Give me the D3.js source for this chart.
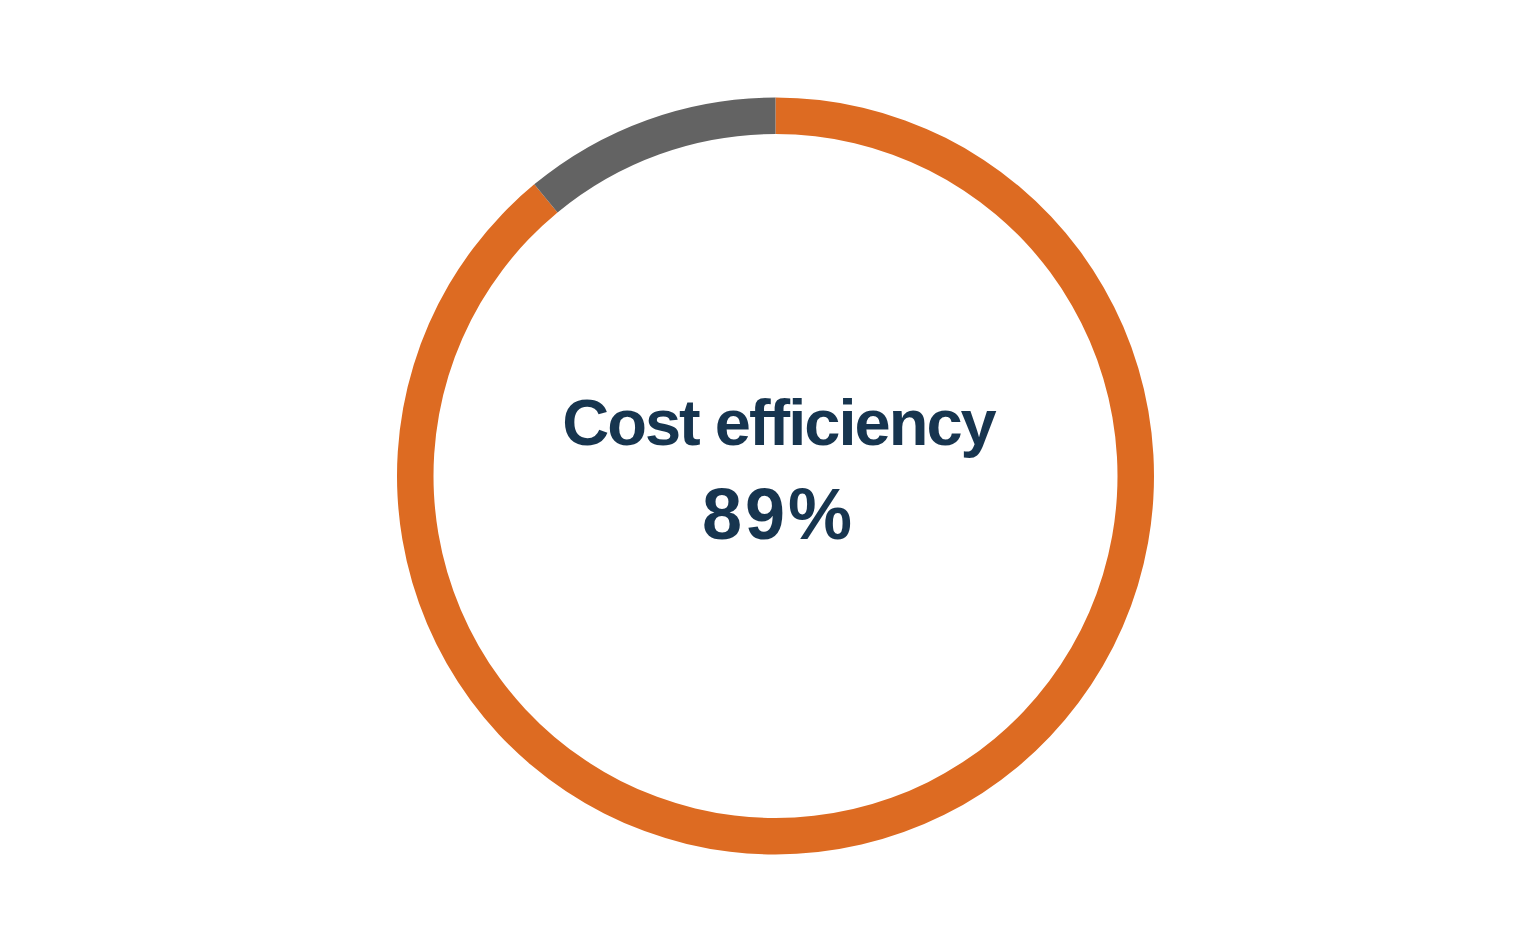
<!DOCTYPE html>
<html>
<head>
<meta charset="utf-8">
<script src="https://cdn.jsdelivr.net/npm/d3@7"></script>
<style>
  body { margin: 0; background: #fff; }
</style>
</head>
<body>
<script>
  const labels = ["Cost efficiency", "Remainder"];
  const values = [89, 11];
  const colors = ["#dd6b22", "#636363"];
  const title = "Cost efficiency";

  var width = 1520;
  var height = 950;

  var svg = d3
    .select("body")
    .append("svg")
    .attr("width", width)
    .attr("height", height);

  var g = svg.append("g").attr("transform", "translate(775.5,476)");

  var pie = d3.pie().sort(null).value(function (d) { return d; });
  var arc = d3.arc().innerRadius(342).outerRadius(378.5);

  g.selectAll(".slice")
    .data(pie(values))
    .enter()
    .append("path")
    .attr("class", "slice")
    .attr("d", arc)
    .style("fill", function (d, i) { return colors[i]; });

  // center label
  g.append("text")
    .attr("x", 3)
    .attr("y", -31)
    .attr("text-anchor", "middle")
    .attr("font-family", "Liberation Sans, Arial, sans-serif")
    .attr("font-weight", "bold")
    .attr("font-size", 65)
    .attr("letter-spacing", -2)
    .style("fill", "#17354f")
    .text(title);

  g.append("text")
    .attr("x", 3)
    .attr("y", 63)
    .attr("text-anchor", "middle")
    .attr("font-family", "Liberation Sans, Arial, sans-serif")
    .attr("font-weight", "bold")
    .attr("font-size", 72)
    .attr("letter-spacing", 3)
    .style("fill", "#17354f")
    .text(values[0] + "%");
</script>
</body>
</html>
